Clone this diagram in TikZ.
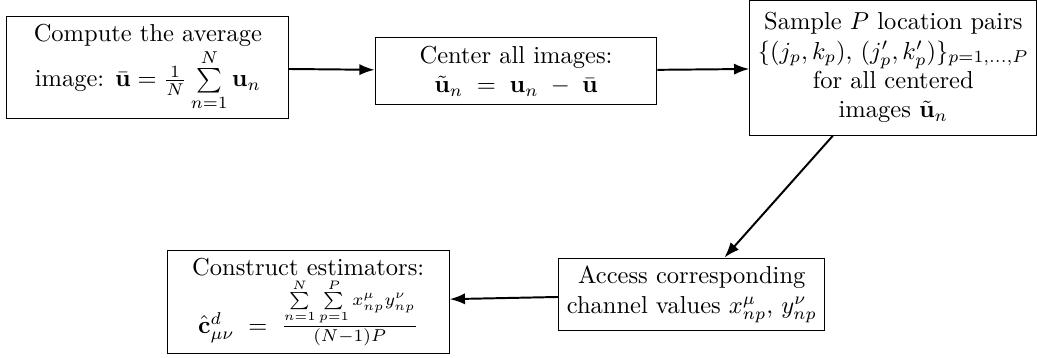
\documentclass[tikz,border=0pt]{standalone}
\usepackage{amsmath,amssymb}
\usepackage{tikz}
\usetikzlibrary{arrows.meta}

\tikzset{
    procbox/.style={draw, align=center, minimum width=4.04cm, inner sep=3.3pt},
    flow/.style={-{Latex[length=2.2mm,width=1.6mm]}, thick}
}

\begin{document}
\begin{tikzpicture}
    \useasboundingbox (0,0) rectangle (14.87,-5.13);

    % Draw the process boxes
    \node[procbox] (avg) at (2.12,-0.97) {Compute the average\\ image: $\bar{\mathbf{u}} = \frac{1}{N}\sum\limits_{n=1}^{N}\mathbf{u}_n$};
    \node[procbox] (center) at (7.40,-1.02) {Center all images:\\ $\tilde{\mathbf{u}}_n \;=\; \mathbf{u}_n \;-\; \bar{\mathbf{u}}$};
    \node[procbox, minimum height=1.94cm] (sample) at (12.81,-0.97) {Sample $P$ location pairs\\ $\{(j_p,k_p),\,(j'_p,k'_p)\}_{p=1,\dots,P}$\\ for all centered\\ images $\tilde{\mathbf{u}}_n$};
    \node[procbox, minimum width=3.63cm] (access) at (9.92,-4.22) {Access corresponding\\ channel values $x^{\mu}_{np}$, $y^{\nu}_{np}$};
    \node[procbox] (estim) at (4.42,-4.33) {Construct estimators:\\ $\hat{\mathbf{c}}^{d}_{\mu\nu} \;=\; \frac{\sum\limits_{n=1}^{N}\sum\limits_{p=1}^{P} x^{\mu}_{np}y^{\nu}_{np}}{(N-1)P}$};

    % Draw the arrows
    \draw[flow] (avg) -- (center);
    \draw[flow] (center) -- (sample);
    \draw[flow] (sample) -- (access);
    \draw[flow] (access) -- (estim);

\end{tikzpicture}
\end{document}
